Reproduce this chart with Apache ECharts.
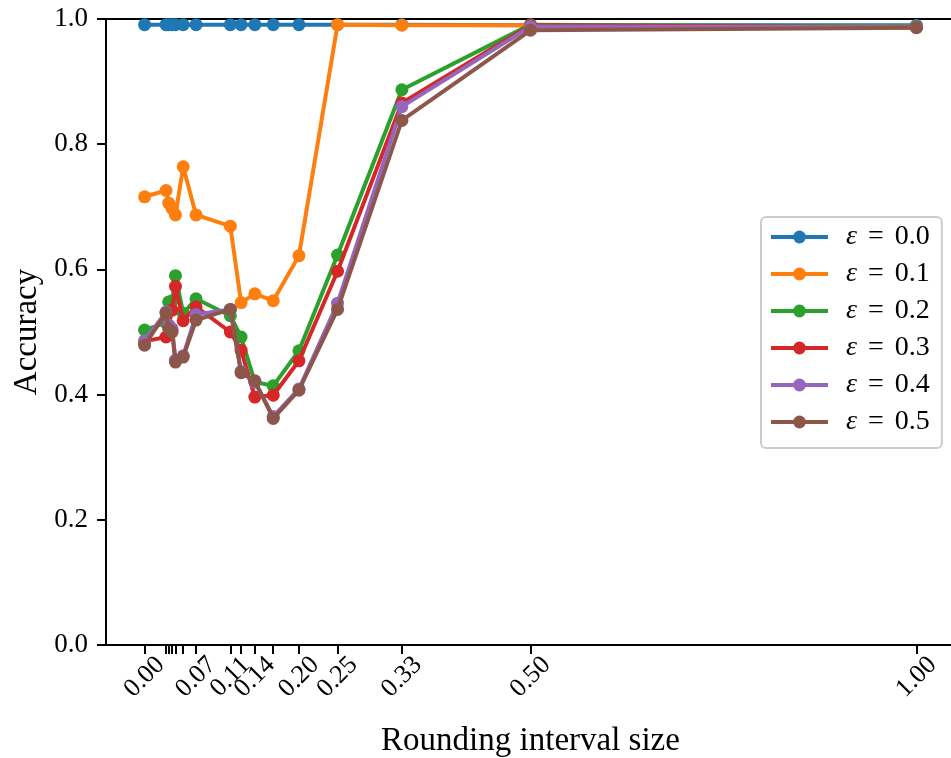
<!DOCTYPE html>
<html><head><meta charset="utf-8">
<script src="https://cdn.jsdelivr.net/npm/echarts@6/dist/echarts.min.js"></script>
<style>html,body{margin:0;padding:0;background:#fff}#c{width:951px;height:758px}</style>
</head><body><div id="c"></div>
<script>
// Rounding interval sizes (x positions of the points)
const xValues = [0, 1/36, 1/32, 1/28, 1/25, 1/20, 1/15, 1/9, 1/8, 1/7, 1/6, 1/5, 1/4, 1/3, 1/2, 1];
// Tick marks and labelled ticks on the x axis
const xTickValues = [0, 1/36, 1/32, 1/28, 1/25, 1/20, 1/15, 1/9, 1/8, 1/7, 1/6, 1/5, 1/4, 1/3, 1/2, 1];
const xLabelValues = [0, 1/15, 1/9, 1/7, 1/5, 1/4, 1/3, 1/2, 1];
const yTicks = [0, 0.2, 0.4, 0.6, 0.8, 1.0];

const seriesNames = ['ε = 0.0', 'ε = 0.1', 'ε = 0.2', 'ε = 0.3', 'ε = 0.4', 'ε = 0.5'];
const eps00 = [0.991,0.991,0.991,0.991,0.991,0.991,0.991,0.991,0.991,0.991,0.991,0.991,0.991,0.991,0.990,0.990];
const eps01 = [0.716,0.726,0.706,0.697,0.687,0.764,0.687,0.669,0.547,0.561,0.550,0.622,0.991,0.990,0.990,0.988];
const eps02 = [0.503,0.515,0.548,0.550,0.590,0.530,0.553,0.526,0.492,0.420,0.414,0.470,0.623,0.887,0.991,0.988];
const eps03 = [0.485,0.492,0.510,0.535,0.573,0.518,0.540,0.500,0.471,0.396,0.399,0.454,0.597,0.866,0.990,0.987];
const eps04 = [0.486,0.532,0.511,0.505,0.455,0.462,0.528,0.536,0.437,0.420,0.365,0.409,0.546,0.860,0.988,0.987];
const eps05 = [0.479,0.530,0.505,0.500,0.452,0.460,0.519,0.536,0.435,0.422,0.362,0.407,0.536,0.838,0.982,0.986];
const allSeries = [eps00, eps01, eps02, eps03, eps04, eps05];
const colors = ['#1f77b4', '#ff7f0e', '#2ca02c', '#d62728', '#9467bd', '#8c564b'];

const FONT = "'Liberation Serif', 'DejaVu Serif', serif";
const chart = echarts.init(document.getElementById('c'), null, {renderer: 'canvas'});

const option = {
  animation: false,
  backgroundColor: '#fff',
  textStyle: {fontFamily: FONT},
  grid: {left: 106, top: 19, width: 849, height: 626, containLabel: false, outerBoundsMode: 'none',
         show: true, borderColor: '#000', borderWidth: 2, backgroundColor: 'transparent'},
  xAxis: {
    type: 'value', min: -0.05, max: 1.05,
    name: 'Rounding interval size', nameLocation: 'middle', nameGap: 80,
    nameTextStyle: {fontFamily: FONT, fontSize: 33, color: '#000', verticalAlign: 'top'},
    axisLine: {show: true, onZero: false, lineStyle: {color: '#000', width: 2}},
    axisTick: {show: true, length: 9, lineStyle: {color: '#000', width: 2}, customValues: xTickValues},
    axisLabel: {show: true, customValues: xLabelValues, rotate: 45, align: 'center', verticalAlign: 'middle',
                margin: 32, fontFamily: FONT, fontSize: 26, color: '#000',
                formatter: v => v.toFixed(2)},
    splitLine: {show: false}
  },
  yAxis: {
    type: 'value', min: 0, max: 1, interval: 0.2,
    name: 'Accuracy', nameLocation: 'middle', nameGap: 60,
    nameTextStyle: {fontFamily: FONT, fontSize: 33, color: '#000'},
    axisLine: {show: true, onZero: false, lineStyle: {color: '#000', width: 2}},
    axisTick: {show: true, length: 9, lineStyle: {color: '#000', width: 2}},
    axisLabel: {margin: 18, fontFamily: FONT, fontSize: 27, color: '#000',
                formatter: v => v.toFixed(1)},
    splitLine: {show: false}
  },
  legend: {
    orient: 'vertical', left: 761, top: 217,
    padding: [5, 12, 11, 8],
    itemWidth: 57, itemHeight: 16, itemGap: 7,
    lineStyle: {width: 4},
    borderColor: '#cccccc', borderWidth: 2, borderRadius: 5,
    backgroundColor: 'rgba(255,255,255,0.8)',
    textStyle: {fontFamily: FONT, fontSize: 28, color: '#000', lineHeight: 30, padding: [0, 0, 0, 13],
                rich: {
                  i: {fontFamily: FONT, fontSize: 28, fontStyle: 'italic', lineHeight: 30},
                  s: {fontFamily: FONT, fontSize: 28, lineHeight: 30, padding: [0, 4, 0, 4]}
                }},
    formatter: name => '{i|ε} {s|=} ' + name.slice(4),
    data: seriesNames
  },
  series: allSeries.map((vals, k) => ({
    name: seriesNames[k],
    type: 'line',
    data: xValues.map((x, i) => [x, vals[i]]),
    symbol: 'circle', symbolSize: 13, showSymbol: true,
    color: colors[k],
    lineStyle: {width: 4, color: colors[k]},
    itemStyle: {color: colors[k]},
    clip: false,
    z: 2 + k
  }))
};
chart.setOption(option);
</script>
</body></html>
